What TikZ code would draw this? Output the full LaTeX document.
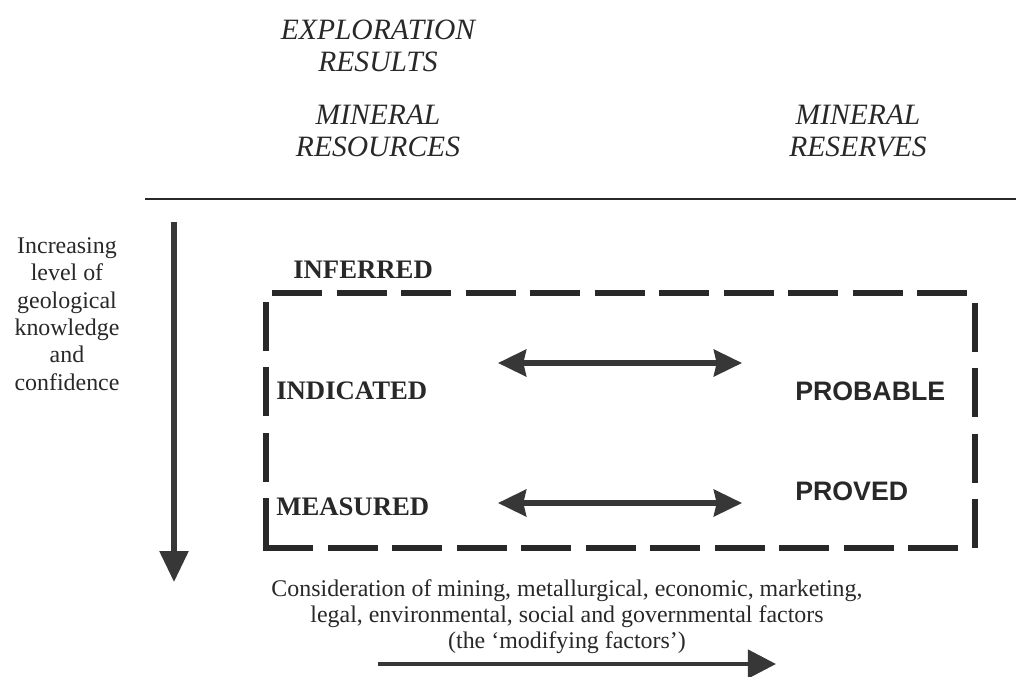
\documentclass[tikz,border=0pt]{standalone}
\usepackage{fontspec}
\setmainfont{Liberation Serif}
\newfontfamily\sansfont{Liberation Sans}
\usetikzlibrary{arrows.meta}
\definecolor{ink}{RGB}{40,40,40}
\definecolor{arrowink}{RGB}{55,55,55}
\tikzset{
  heading/.style={font=\fontsize{21}{23}\selectfont\itshape, text=ink, align=center, inner sep=0pt},
  bodytext/.style={font=\fontsize{17}{19.5}\selectfont, text=ink, align=center, inner sep=0pt},
  foottext/.style={font=\fontsize{17}{18.5}\selectfont, text=ink, align=center, inner sep=0pt},
  reslabel/.style={font=\fontsize{19}{21}\selectfont\bfseries, text=ink, inner sep=0pt, anchor=west},
  reslabelsans/.style={font=\fontsize{19}{21}\selectfont\sansfont\bfseries, text=ink, inner sep=0pt, anchor=west},
  rule/.style={draw=ink, line width=1.4pt},
  boxh/.style={draw=ink, line width=4.3pt, dash pattern=on 35.6pt off 10.3pt},
  boxv/.style={draw=ink, line width=4.3pt, dash pattern=on 34.9pt off 11.6pt},
  dblarrow/.style={draw=arrowink, line width=3.6pt, {Stealth[length=20pt,width=19pt,inset=2pt]}-{Stealth[length=20pt,width=19pt,inset=2pt]}},
  downarrow/.style={draw=arrowink, line width=3.6pt, -{Triangle[length=22pt,width=20pt]}},
  rightarrow/.style={draw=arrowink, line width=3pt, -{Triangle[length=20pt,width=20pt]}}
}
\begin{document}
\begin{tikzpicture}[x=0.025cm, y=-0.025cm]
\useasboundingbox (0,0) rectangle (1016,676);

% headings
\node[heading] (explo) at (378,46) {EXPLORATION\\RESULTS};
\node[heading] (resources) at (378,131) {MINERAL\\RESOURCES};
\node[heading] (reserves) at (858,131) {MINERAL\\RESERVES};

% horizontal rule
\coordinate (ruleL) at (145,199);
\coordinate (ruleR) at (1016,199);
\draw[rule] (ruleL) -- (ruleR);

% left axis
\node[bodytext] (axislabel) at (67,314) {Increasing\\level of\\geological\\knowledge\\and\\confidence};
\coordinate (vtop) at (174,222);
\coordinate (vbot) at (174,582);
\draw[downarrow] (vtop) -- (vbot);

% dashed box
\coordinate (tl) at (272,293);
\coordinate (tr) at (967,293);
\coordinate (lt) at (266,302);
\coordinate (lb) at (266,551);
\coordinate (bl) at (263,548);
\coordinate (br) at (958,548);
\coordinate (rt) at (975,303);
\coordinate (rb) at (975,551);
\draw[boxh] (tl) -- (tr);
\draw[boxh] (bl) -- (br);
\draw[boxv] (lt) -- (lb);
\draw[boxv] (rt) -- (rb);

% labels
\node[reslabel] (inferred) at (293,270) {INFERRED};
\node[reslabel] (indicated) at (276,391) {INDICATED};
\node[reslabel] (measured) at (276,507) {MEASURED};
\node[reslabelsans] (probable) at (795,391) {PROBABLE};
\node[reslabelsans] (proved) at (795,491) {PROVED};

% double arrows
\coordinate (a1L) at (498,363);
\coordinate (a1R) at (742,363);
\coordinate (a2L) at (498,503);
\coordinate (a2R) at (742,503);
\draw[dblarrow] (a1L) -- (a1R);
\draw[dblarrow] (a2L) -- (a2R);

% footer
\node[foottext] (factors) at (567,617) {Consideration of mining, metallurgical, economic, marketing,\\legal, environmental, social and governmental factors\\(the ‘modifying factors’)};
\coordinate (fL) at (378,664);
\coordinate (fR) at (776,664);
\draw[rightarrow] (fL) -- (fR);
\end{tikzpicture}
\end{document}
